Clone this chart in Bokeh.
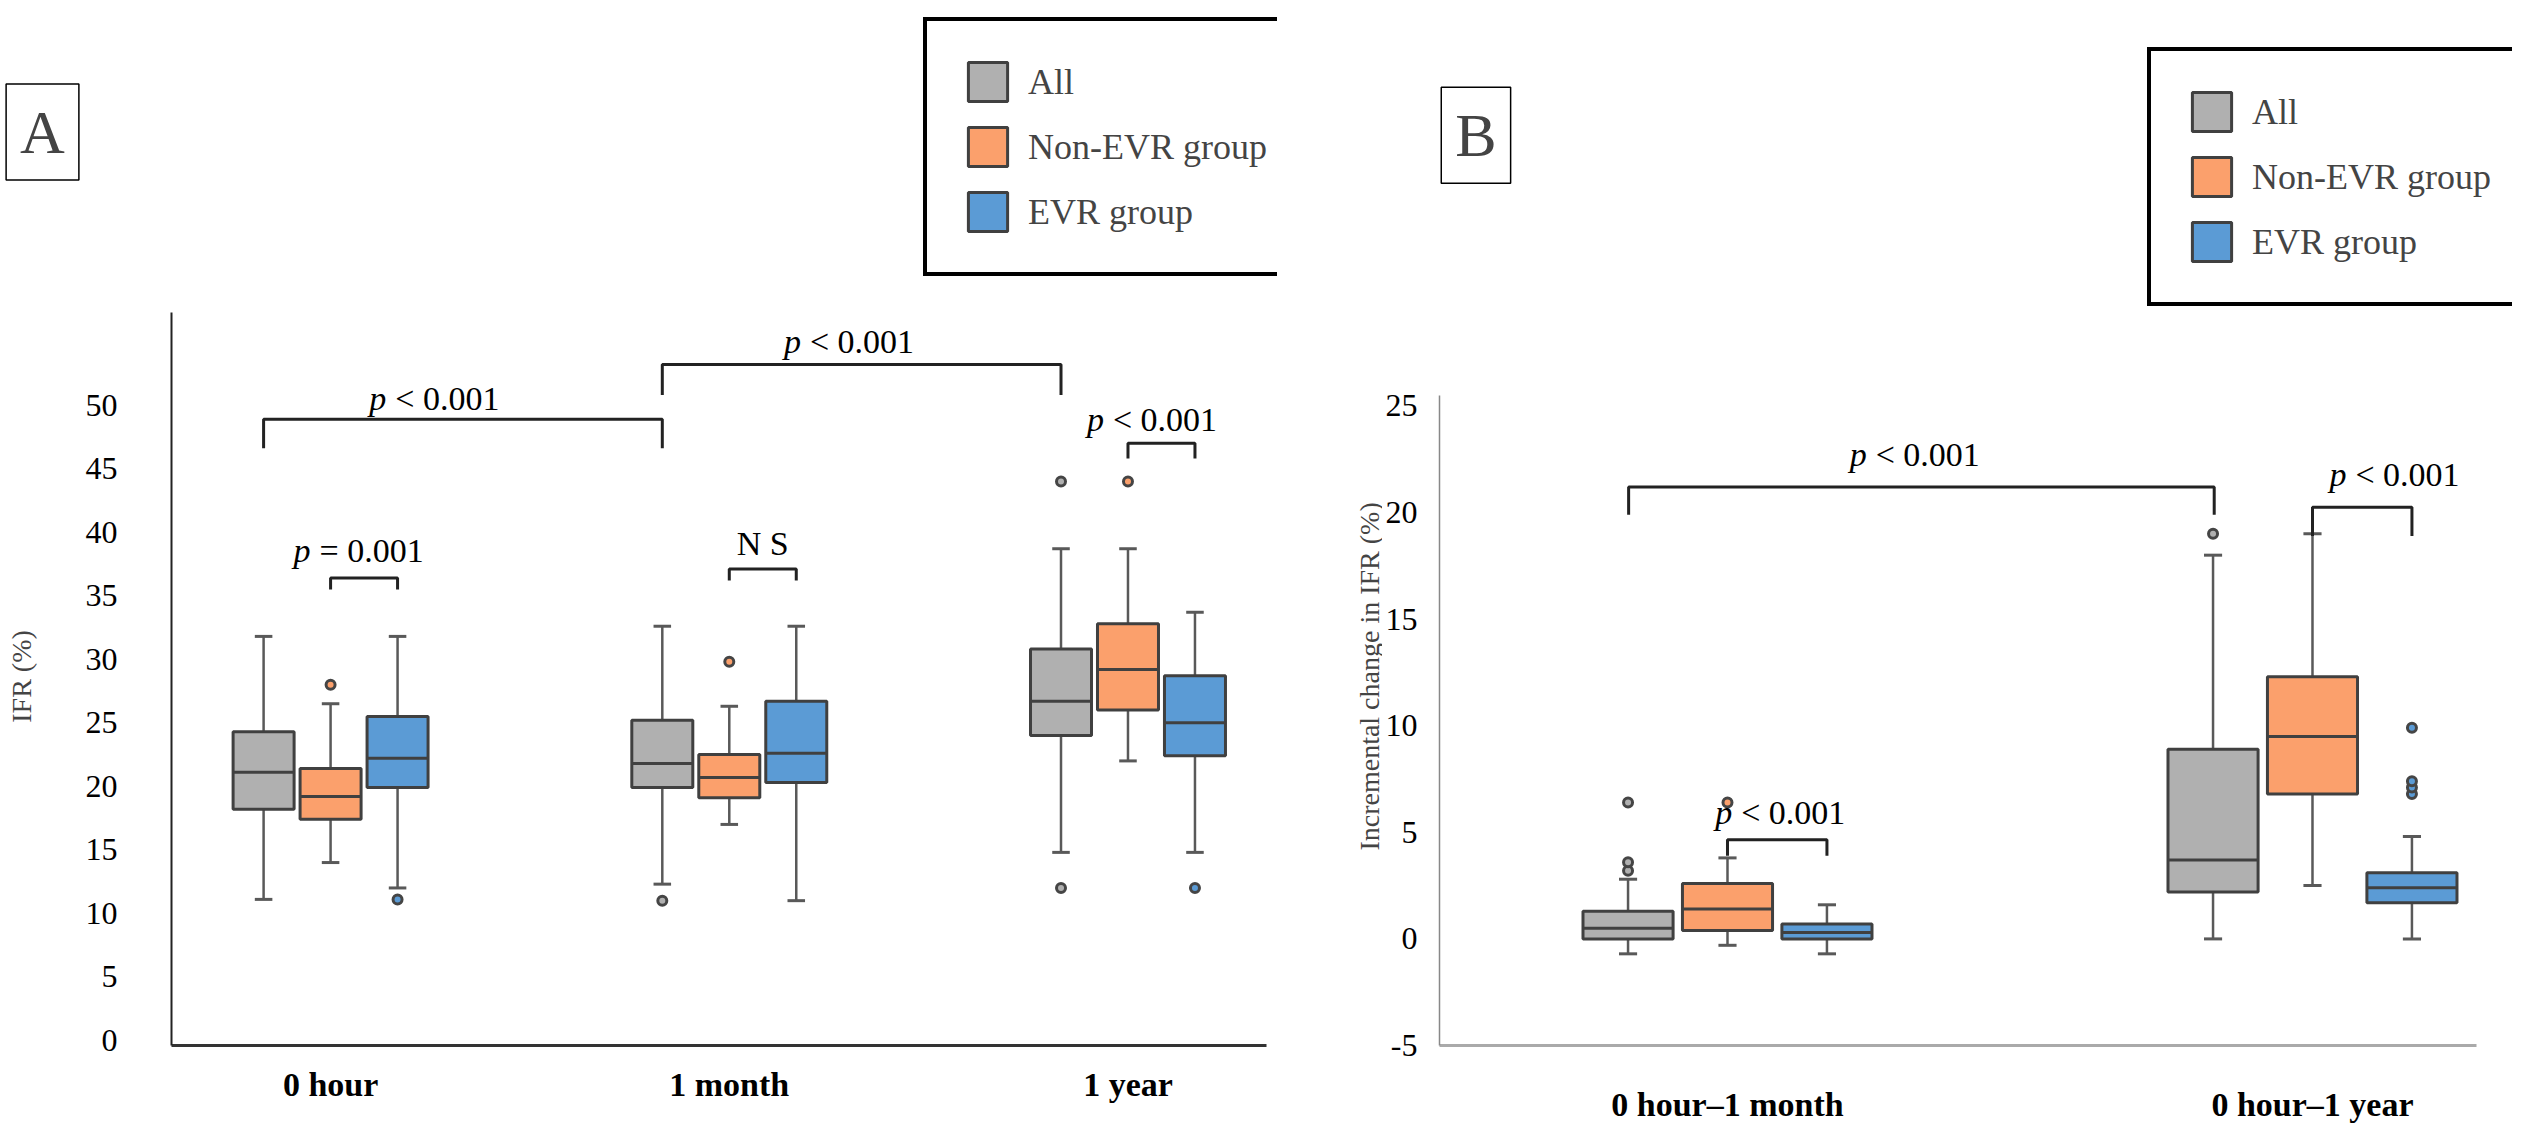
import math
from bokeh.plotting import figure
from bokeh.models import ColumnDataSource, FixedTicker, Label, Legend, LegendItem, Range1d
from bokeh.layouts import row
from bokeh.core.properties import value
from bokeh.embed import file_html
from bokeh.resources import INLINE

SERIES = ["All", "Non-EVR group", "EVR group"]
COLORS = ["#b0b0b0", "#fba06c", "#5b9bd5"]

# Panel A: IFR (%) — [low whisker, Q1, median, Q3, high whisker] per time point
A_groups = ["0 hour", "1 month", "1 year"]
A_all = [[11.1, 18.2, 21.1, 24.3, 31.8], [12.3, 19.9, 21.8, 25.2, 32.6], [14.8, 24.0, 26.7, 30.8, 38.7]]
A_non = [[14.0, 17.4, 19.2, 21.4, 26.5], [17.0, 19.1, 20.7, 22.5, 26.3], [22.0, 26.0, 29.2, 32.8, 38.7]]
A_evr = [[12.0, 19.9, 22.2, 25.5, 31.8], [11.0, 20.3, 22.6, 26.7, 32.6], [14.8, 22.4, 25.0, 28.7, 33.7]]
A_all_out = [[], [11.0], [44.0, 12.0]]
A_non_out = [[28.0], [29.8], [44.0]]
A_evr_out = [[11.1], [], [12.0]]

# Panel B: incremental change in IFR (%)
B_groups = ["0 hour\u20131 month", "0 hour\u20131 year"]
B_all = [[-0.7, 0.0, 0.5, 1.3, 2.8], [0.0, 2.2, 3.7, 8.9, 18.0]]
B_non = [[-0.3, 0.4, 1.4, 2.6, 3.8], [2.5, 6.8, 9.5, 12.3, 19.0]]
B_evr = [[-0.7, 0.0, 0.3, 0.7, 1.6], [0.0, 1.7, 2.4, 3.1, 4.8]]
B_all_out = [[3.2, 3.6, 6.4], [19.0]]
B_non_out = [[6.4], []]
B_evr_out = [[], [6.8, 7.1, 7.4, 9.9]]

SERIF = "Liberation Serif"
EDGE = "#404040"


def make_fig(width, mbl, mbr, mbb, xr, yr):
    p = figure(width=width, height=1125, x_range=xr, y_range=yr, output_backend="svg",
               toolbar_location=None, min_border_left=mbl, min_border_right=mbr,
               min_border_top=7, min_border_bottom=mbb)
    p.outline_line_color = None
    p.grid.visible = False
    for ax in (p.xaxis[0], p.yaxis[0]):
        ax.major_tick_line_color = None
        ax.minor_tick_line_color = None
        ax.major_label_text_font = SERIF
        ax.major_label_text_color = "black"
    return p


def side_fig(width, x0, label):
    # blank strip holding the rotated axis title (screen-like coordinates)
    p = figure(width=width, height=1125, x_range=Range1d(x0, x0 + width), y_range=Range1d(1133, 8),
               output_backend="svg", toolbar_location=None, min_border=0)
    p.axis.visible = False
    p.grid.visible = False
    p.outline_line_color = None
    return p


def draw_boxes(p, data, outs, offset, width, cap):
    items = []
    for i, (vals, out, col, name) in enumerate(zip(data, outs, COLORS, SERIES)):
        xs = [g + (i - 1) * offset for g in range(len(vals))]
        src = ColumnDataSource(dict(x=xs, lo=[v[0] for v in vals], q1=[v[1] for v in vals],
                                    med=[v[2] for v in vals], q3=[v[3] for v in vals],
                                    hi=[v[4] for v in vals],
                                    cl=[x - cap / 2 for x in xs], cr=[x + cap / 2 for x in xs],
                                    bl=[x - width / 2 for x in xs], br=[x + width / 2 for x in xs]))
        p.segment(x0="x", y0="q3", x1="x", y1="hi", source=src, line_color="#595959", line_width=2.5)
        p.segment(x0="x", y0="lo", x1="x", y1="q1", source=src, line_color="#595959", line_width=2.5)
        p.segment(x0="cl", y0="hi", x1="cr", y1="hi", source=src, line_color="#595959", line_width=3)
        p.segment(x0="cl", y0="lo", x1="cr", y1="lo", source=src, line_color="#595959", line_width=3)
        r = p.vbar(x="x", bottom="q1", top="q3", width=width, source=src, fill_color=col,
                   line_color=EDGE, line_width=3)
        p.segment(x0="bl", y0="med", x1="br", y1="med", source=src, line_color=EDGE, line_width=3)
        ox, oy = [], []
        for g, o in enumerate(out):
            for v in o:
                ox.append(xs[g]); oy.append(v)
        if ox:
            p.scatter(ox, oy, size=9, fill_color=col, line_color="#454545", line_width=3)
        items.append(LegendItem(label=name, renderers=[r]))
    return items


def bracket(p, x0, x1, ytop, ybot):
    p.line([x0, x0, x1, x1], [ybot, ytop, ytop, ybot], line_color="#222222", line_width=3)


def ptext(p, x, y, rest, size="34px"):
    p.text([x], [y], text=["p"], text_font=value(SERIF), text_font_style="italic",
           text_font_size=size, text_align="right", text_baseline="middle", x_offset=-48)
    p.text([x], [y], text=[rest], text_font=value(SERIF), text_font_size=size,
           text_align="left", text_baseline="middle", x_offset=-39)


def style_legend(p, items, loc):
    lg = Legend(items=items, location=loc, label_text_font=SERIF, label_text_font_size="36px",
                glyph_width=49, glyph_height=49, label_height=49, spacing=16, padding=36,
                margin=0, border_line_color="black", border_line_width=4, border_line_alpha=1,
                label_standoff=16, background_fill_alpha=1)
    p.add_layout(lg, "center")


# ---------------- left strip for panel A ----------------
sa = side_fig(82, 8, "A")
sa.add_layout(Label(x=50, y=143, text="A", text_font=SERIF, text_font_size="62px",
                    text_align="center", text_baseline="middle", border_line_color="black",
                    border_line_width=1.5, padding=14))
sa.add_layout(Label(x=29, y=733, text="IFR (%)", text_font=SERIF, text_font_size="28px",
                    angle=math.pi / 2, text_align="center", text_baseline="middle"))

# ---------------- Panel A ----------------
pa = make_fig(1240, 55, 45, 58, (-0.399, 2.375), (-0.4, 81.3))
pa.yaxis.ticker = FixedTicker(ticks=list(range(0, 55, 5)))
pa.yaxis.bounds = (-0.4, 57.3)
pa.yaxis.axis_line_color = "#222222"
pa.yaxis.axis_line_width = 2
pa.yaxis.major_label_text_font_size = "32px"
pa.yaxis.major_label_standoff = 48
pa.xaxis.ticker = FixedTicker(ticks=[0, 1, 2])
pa.xaxis.major_label_overrides = {i: g for i, g in enumerate(A_groups)}
pa.xaxis.major_label_text_font_size = "34px"
pa.xaxis.major_label_text_font_style = "bold"
pa.xaxis.major_label_standoff = 14
pa.xaxis.axis_line_color = "#333333"
pa.xaxis.axis_line_width = 3
pa.xaxis.bounds = (-0.403, 2.348)

itA = draw_boxes(pa, [A_all, A_non, A_evr], [A_all_out, A_non_out, A_evr_out], 0.168, 0.153, 0.044)
style_legend(pa, itA, (752, 769))

bracket(pa, -0.168, 0.832, 48.9, 46.6)
ptext(pa, 0.26, 50.5, "< 0.001")
bracket(pa, 0.832, 1.832, 53.2, 50.8)
ptext(pa, 1.30, 55.0, "< 0.001")
bracket(pa, 0.0, 0.168, 36.4, 35.5)
ptext(pa, 0.07, 38.6, "= 0.001")
bracket(pa, 1.0, 1.168, 37.1, 36.2)
pa.text([1.084], [39.1], text=["N S"], text_font=value(SERIF), text_font_size="34px",
        text_align="center", text_baseline="middle")
bracket(pa, 2.0, 2.168, 47.0, 45.8)
ptext(pa, 2.06, 48.9, "< 0.001")

# ---------------- left strip for panel B ----------------
sb = side_fig(60, 1330, "B")
sb.add_layout(Label(x=1377, y=733, text="Incremental change in IFR (%)", text_font=SERIF,
                    text_font_size="28px", angle=math.pi / 2, text_align="center",
                    text_baseline="middle"))

# ---------------- Panel B ----------------
pb = make_fig(1146, 57, 16, 79, (-0.4923, 1.3419), (-5.0, 43.69))
pb.yaxis.ticker = FixedTicker(ticks=list(range(-5, 30, 5)))
pb.yaxis.bounds = (-5.0, 25.5)
pb.yaxis.axis_line_color = "#888888"
pb.yaxis.axis_line_width = 1.5
pb.yaxis.major_label_text_font_size = "32px"
pb.yaxis.major_label_standoff = 16
pb.yaxis.major_label_overrides = {-5: "-5"}
pb.xaxis.ticker = FixedTicker(ticks=[0, 1])
pb.xaxis.major_label_overrides = {i: g for i, g in enumerate(B_groups)}
pb.xaxis.major_label_text_font_size = "34px"
pb.xaxis.major_label_text_font_style = "bold"
pb.xaxis.major_label_standoff = 34
pb.xaxis.axis_line_color = "#aaaaaa"
pb.xaxis.axis_line_width = 3
pb.xaxis.bounds = (-0.4923, 1.28)

itB = draw_boxes(pb, [B_all, B_non, B_evr], [B_all_out, B_non_out, B_evr_out], 0.17, 0.154, 0.031)
style_legend(pb, itB, (708, 739))

bracket(pb, -0.169, 0.832, 21.2, 19.9)
ptext(pb, 0.32, 22.7, "< 0.001")
bracket(pb, 1.0, 1.17, 20.25, 18.9)
ptext(pb, 1.14, 21.8, "< 0.001")
bracket(pb, 0.0, 0.17, 4.65, 3.9)
ptext(pb, 0.09, 5.95, "< 0.001")

pb.add_layout(Label(x=-0.43, y=37.7, text="B", text_font=SERIF, text_font_size="62px",
                    text_align="center", text_baseline="middle", border_line_color="black",
                    border_line_width=1.5, padding=14))

layout = row(sa, pa, sb, pb)
open("out.html", "w").write(file_html(layout, INLINE))
